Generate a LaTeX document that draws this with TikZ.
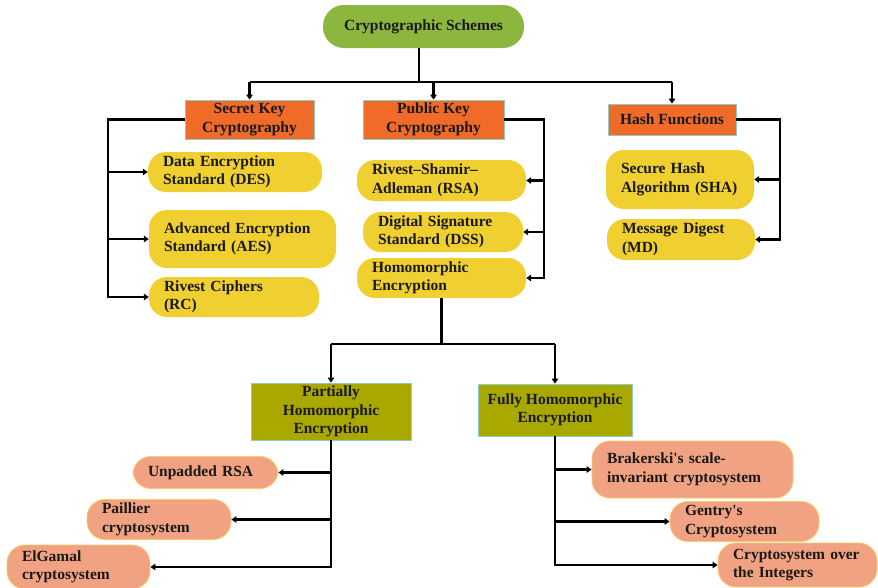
\documentclass[tikz,border=0pt]{standalone}
\usepackage{fontspec}
\setmainfont{Liberation Serif}
\usetikzlibrary{arrows.meta,calc}
\definecolor{rootg}{RGB}{141,182,62}
\definecolor{orng}{RGB}{240,106,40}
\definecolor{tealb}{RGB}{140,205,200}
\definecolor{ylw}{RGB}{240,208,48}
\definecolor{olv}{RGB}{168,168,0}
\definecolor{salm}{RGB}{240,162,130}
\definecolor{salmb}{RGB}{250,200,100}
\definecolor{txt}{RGB}{25,25,25}
\begin{document}
\begin{tikzpicture}[x=1pt,y=-1pt,
  font=\fontsize{15.5}{18.5}\selectfont\bfseries,
  every node/.style={text=txt},
  rootb/.style={fill=rootg, rounded corners=21pt, inner sep=0pt, align=center},
  cat/.style={fill=orng, draw=tealb, line width=0.8pt, inner sep=0pt, align=center},
  subb/.style={fill=olv, draw=tealb, line width=0.8pt, inner sep=0pt, align=center},
  leafy/.style={fill=ylw, rounded corners=18pt, inner xsep=15pt, inner ysep=0pt, align=left,
    minimum width=#1, text width={(#1-30)*1pt}},
  leafs/.style={fill=salm, draw=salmb, line width=0.8pt, rounded corners=18pt, inner xsep=15pt, inner ysep=0pt, align=left,
    minimum width=#1, text width={(#1-30)*1pt}},
  conn/.style={line width=2.6pt, black},
  arr/.style={conn, -{Triangle[length=5pt,width=6.5pt]}}]
\useasboundingbox (0,0) rectangle (878,587);

% nodes
\node[rootb, minimum width=201, minimum height=43] (root) at (423.5,26.5) {Cryptographic Schemes};
\node[cat, minimum width=129, minimum height=39] (sk) at (249.5,119.5) {Secret Key\\Cryptography};
\node[cat, minimum width=141, minimum height=39] (pk) at (433.5,119.5) {Public Key\\Cryptography};
\node[cat, minimum width=128, minimum height=31] (hf) at (672,119.5) {Hash Functions};

\node[leafy=174, minimum height=40] (des) at (235,172) {Data Encryption\\Standard (DES)};
\node[leafy=187, minimum height=58] (aes) at (242.5,239) {Advanced Encryption\\Standard (AES)};
\node[leafy=170, minimum height=40] (rc) at (234,297) {Rivest Ciphers\\(RC)};

\node[leafy=169, minimum height=41] (rsa) at (441.5,180.5) {Rivest--Shamir--\\Adleman (RSA)};
\node[leafy=160, minimum height=40] (dss) at (443,232) {Digital Signature\\Standard (DSS)};
\node[leafy=169, minimum height=40] (he) at (441.5,278) {Homomorphic\\Encryption};

\node[leafy=148, minimum height=59] (sha) at (680,179.5) {Secure Hash\\Algorithm (SHA)};
\node[leafy=148, minimum height=41] (md) at (681,239.5) {Message Digest\\(MD)};

\node[subb, minimum width=160, minimum height=57] (phe) at (331,411.5) {Partially\\Homomorphic\\Encryption};
\node[subb, minimum width=154, minimum height=52] (fhe) at (555,410) {Fully Homomorphic\\Encryption};

\node[leafs=145, minimum height=32] (unp) at (205.5,472.5) {Unpadded RSA};
\node[leafs=144, minimum height=40] (pai) at (159,519.5) {Paillier\\cryptosystem};
\node[leafs=143, minimum height=44] (elg) at (78.5,567) {ElGamal\\cryptosystem};

\node[leafs=201, minimum height=57] (bra) at (692.5,469.5) {Brakerski\textquotesingle s scale-\\invariant cryptosystem};
\node[leafs=149, minimum height=40] (gen) at (744.5,521.5) {Gentry\textquotesingle s\\Cryptosystem};
\node[leafs=159, minimum height=44] (int) at (797.5,565) {Cryptosystem over\\the Integers};

% junction coordinates
\coordinate (j1) at (419,82);
\coordinate (skv) at (108,119.5);
\coordinate (pkv) at (544,119.5);
\coordinate (hfv) at (780,119.5);
\coordinate (hj) at (441.5,344);
\coordinate (pj) at (331,567);
\coordinate (fj) at (555,565);

% top level
\draw[conn] (root.south -| j1) -- (j1);
\draw[conn] (sk.north |- j1) -- (hf.north |- j1);
\draw[arr] (sk.north |- j1) -- (sk.north);
\draw[arr] (pk.north |- j1) -- (pk.north);
\draw[arr] (hf.north |- j1) -- (hf.north);

% secret key
\draw[arr] (sk.west) -- (skv) |- (rc.west);
\draw[arr] (skv |- des.west) -- (des.west);
\draw[arr] (skv |- aes.west) -- (aes.west);

% public key
\draw[arr] (pk.east) -- (pkv) |- (he.east);
\draw[arr] (pkv |- rsa.east) -- (rsa.east);
\draw[arr] (pkv |- dss.east) -- (dss.east);

% hash
\draw[arr] (hf.east) -- (hfv) |- (md.east);
\draw[arr] (hfv |- sha.east) -- (sha.east);

% homomorphic
\draw[conn] (he.south) -- (hj);
\draw[conn] (phe.north |- hj) -- (fhe.north |- hj);
\draw[arr] (phe.north |- hj) -- (phe.north);
\draw[arr] (fhe.north |- hj) -- (fhe.north);

% partially
\draw[arr] (phe.south) -- (pj) -- (elg.east);
\draw[arr] (pj |- unp.east) -- (unp.east);
\draw[arr] (pj |- pai.east) -- (pai.east);

% fully
\draw[arr] (fhe.south) -- (fj) -- (int.west);
\draw[arr] (fj |- bra.west) -- (bra.west);
\draw[arr] (fj |- gen.west) -- (gen.west);
\end{tikzpicture}
\end{document}
